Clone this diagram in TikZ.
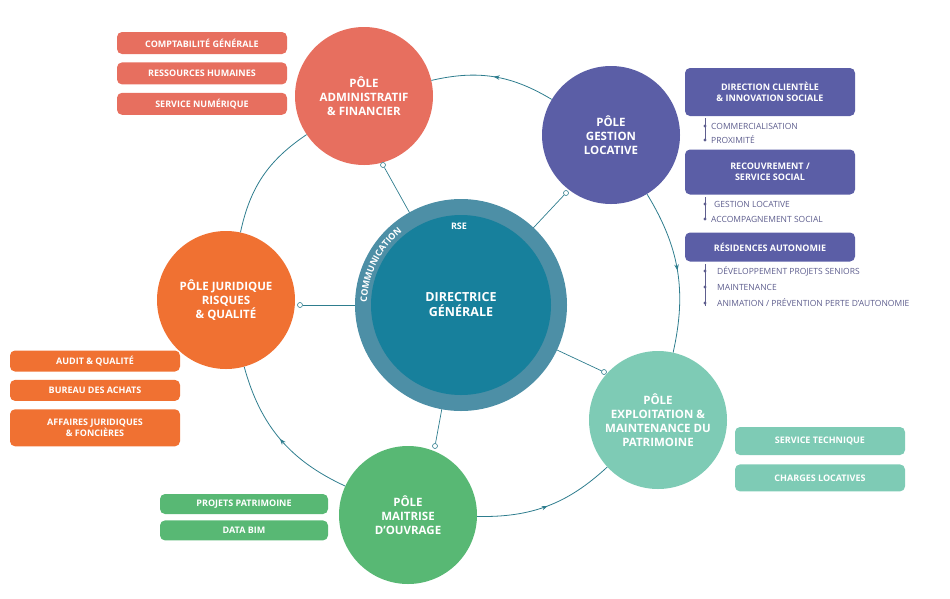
\documentclass[tikz,border=0pt]{standalone}
\usepackage{fontspec}
\setmainfont{Open Sans}
\usetikzlibrary{positioning, decorations.markings, decorations.text, arrows.meta}
\definecolor{admin}{HTML}{E76F5F}
\definecolor{gestion}{HTML}{5B5EA6}
\definecolor{jurid}{HTML}{F07132}
\definecolor{exploit}{HTML}{7ECBB5}
\definecolor{maitrise}{HTML}{58B874}
\definecolor{dgin}{HTML}{17809C}
\definecolor{dgring}{HTML}{4D8FA6}
\definecolor{orbit}{HTML}{2E7D8E}
\definecolor{subtxt}{HTML}{5E5E8E}
\tikzset{
    pole/.style={circle, text=white, font=\bfseries\fontsize{11.5}{14}\selectfont, align=center, inner sep=0pt, minimum size=138pt},
    unit/.style={rectangle, rounded corners=5pt, text=white, font=\bfseries\fontsize{9}{11}\selectfont, align=center, minimum width=170pt, inner sep=2pt},
    sub/.style={anchor=west, text=subtxt, font=\fontsize{8.5}{10}\selectfont, inner sep=1pt},
    spoke/.style={orbit, line width=0.7pt},
    flow/.style={orbit, line width=0.8pt},
    midarrow/.style={postaction={decorate}, decoration={markings, mark=at position 0.5 with {\arrow{Stealth[length=6pt]}}}},
    tick/.style={circle, draw=orbit, fill=white, line width=0.6pt, inner sep=0pt, minimum size=5pt},
}
\begin{document}
\begin{tikzpicture}[x=1pt, y=-1pt]
      \useasboundingbox (0,0) rectangle (950,598);
      % poles
      \node (admin) [pole, fill=admin] at (364,96) {PÔLE\\ADMINISTRATIF\\\& FINANCIER};
      \node (gestion) [pole, fill=gestion] at (611,135) {PÔLE\\GESTION\\LOCATIVE};
      \node (jurid) [pole, fill=jurid] at (226,300) {PÔLE JURIDIQUE\\RISQUES\\\& QUALITÉ};
      \node (exploit) [pole, fill=exploit] at (658,420) {PÔLE\\EXPLOITATION \&\\MAINTENANCE DU\\PATRIMOINE};
      \node (maitrise) [pole, fill=maitrise] at (408,515) {PÔLE\\MAITRISE\\D'OUVRAGE};
      % orbit arcs
      \draw [flow, midarrow] (gestion) to[bend right=22] (admin);
      \draw [flow, midarrow] (gestion) to[bend left=22] (exploit);
      \draw [flow, midarrow] (maitrise) to[bend right=22] (exploit);
      \draw [flow, midarrow] (maitrise) to[bend left=25] (jurid);
      \draw [flow] (jurid) to[bend left=22] (admin);
      % spokes
      \node (t1) [tick] at (383,165) {};
      \node (t2) [tick] at (566,193) {};
      \node (t3) [tick] at (300,305) {};
      \node (t4) [tick] at (435,446) {};
      \node (t5) [tick] at (604,372) {};
      \coordinate (c) at (461,305);
      \draw [spoke] (c) -- (t1);
      \draw [spoke] (c) -- (t2);
      \draw [spoke] (c) -- (t3);
      \draw [spoke] (c) -- (t4);
      \draw [spoke] (c) -- (t5);
      % centre
      \node (dg) [circle, fill=dgring, minimum size=212pt] at (c) {};
      \node (dgin) [circle, fill=dgin, minimum size=180pt, text=white, font=\bfseries\fontsize{12.5}{15}\selectfont, align=center] at (c) {DIRECTRICE\\GÉNÉRALE};
      \node (rse) [text=white, font=\bfseries\fontsize{9}{11}\selectfont] at (459,226) {RSE};
      \path [decorate, decoration={text along path, text align=center, text={|\bfseries\fontsize{9}{11}\selectfont\color{white}|COMMUNICATION}}]
          (c) ++(163:94) arc[start angle=163, end angle=250, radius=94];
      % admin units
      \node (compta) [unit, fill=admin, minimum height=22pt] at (202,43) {COMPTABILITÉ GÉNÉRALE};
      \node (rh) [unit, fill=admin, minimum height=22pt, below=8pt of compta.south, anchor=north] {RESSOURCES HUMAINES};
      \node (num) [unit, fill=admin, minimum height=22pt, below=8pt of rh.south, anchor=north] {SERVICE NUMÉRIQUE};
      % juridique units
      \node (audit) [unit, fill=jurid, minimum height=21pt] at (95,361) {AUDIT \& QUALITÉ};
      \node (achats) [unit, fill=jurid, minimum height=21pt, below=8pt of audit.south, anchor=north] {BUREAU DES ACHATS};
      \node (affaires) [unit, fill=jurid, minimum height=37pt, below=8pt of achats.south, anchor=north] {AFFAIRES JURIDIQUES\\\& FONCIÈRES};
      % gestion units
      \node (dircli) [unit, fill=gestion, minimum height=48pt] at (770,92) {DIRECTION CLIENTÈLE\\\& INNOVATION SOCIALE};
      \node (recouv) [unit, fill=gestion, minimum height=45pt] at (770,172) {RECOUVREMENT /\\SERVICE SOCIAL};
      \node (resid) [unit, fill=gestion, minimum height=29pt] at (770,247) {RÉSIDENCES AUTONOMIE};
      \draw [subtxt, line width=0.6pt] (705,118) -- (705,141);
      \draw [subtxt, line width=0.6pt] (705,197) -- (705,219);
      \draw [subtxt, line width=0.6pt] (705,264) -- (705,306);
      \foreach \y in {126,140,204,219,271,287,303}
          \fill [subtxt] (705,\y) circle (1.6pt);
      \node (commer) [sub] at (710,126) {COMMERCIALISATION};
      \node (proxi) [sub] at (710,140) {PROXIMITÉ};
      \node (gestloc) [sub] at (713,204) {GESTION LOCATIVE};
      \node (accomp) [sub] at (710,219) {ACCOMPAGNEMENT SOCIAL};
      \node (devproj) [sub] at (716,271) {DÉVELOPPEMENT PROJETS SENIORS};
      \node (maint) [sub] at (716,287) {MAINTENANCE};
      \node (anim) [sub] at (716,303) {ANIMATION / PRÉVENTION PERTE D'AUTONOMIE};
      % exploitation units
      \node (tech) [unit, fill=exploit, minimum height=28pt] at (820,441) {SERVICE TECHNIQUE};
      \node (charges) [unit, fill=exploit, minimum height=27pt, below=9pt of tech.south, anchor=north] {CHARGES LOCATIVES};
      % maitrise units
      \node (projets) [unit, fill=maitrise, minimum height=20pt, minimum width=168pt] at (244,504) {PROJETS PATRIMOINE};
      \node (bim) [unit, fill=maitrise, minimum height=20pt, minimum width=168pt, below=6pt of projets.south, anchor=north] {DATA BIM};
    \end{tikzpicture}
\end{document}
